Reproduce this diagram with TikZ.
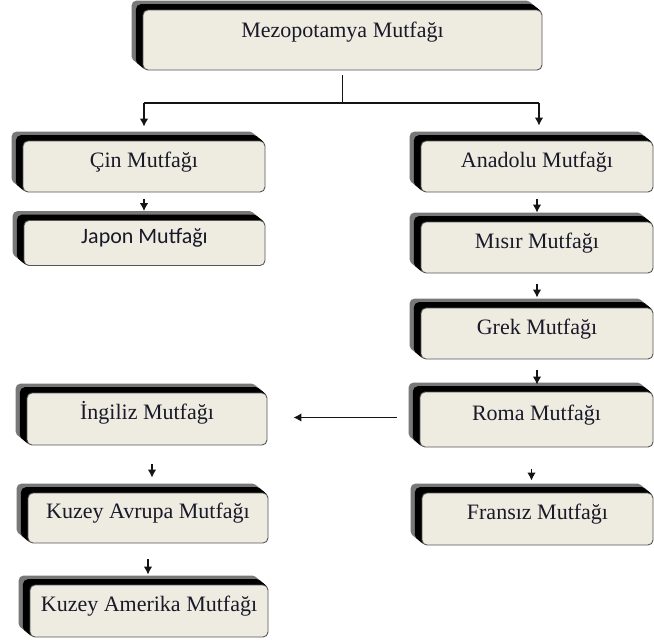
\documentclass[tikz,border=0pt]{standalone}
\usepackage{fontspec}
\setmainfont{Liberation Serif}
\newfontfamily\calfont{Carlito}
\usetikzlibrary{arrows.meta,backgrounds}
\definecolor{boxfill}{RGB}{238,235,225}
\definecolor{boxline}{RGB}{85,85,85}
\definecolor{shgray}{RGB}{120,120,120}
\definecolor{txt}{RGB}{25,25,40}
\definecolor{arrcol}{RGB}{20,20,20}
\begin{document}
\begin{tikzpicture}[x=1pt,y=-1pt,
  box/.style={draw=boxline, line width=0.9pt, fill=boxfill, rounded corners=5pt,
    inner sep=0pt, text height=10pt, text depth=9pt,
    font=\fontsize{22}{26}\selectfont, text=txt},
  conn/.style={draw=arrcol, line width=1.2pt},
  arr/.style={conn, -{Latex[length=8pt,width=8.5pt]}}]
\useasboundingbox (0,0) rectangle (654,643);

% boxes
\node[box, minimum width=399pt, minimum height=60pt, text height=7pt, text depth=13pt] (mezo) at (342.5,40) {Mezopotamya Mutfağı};
\node[box, minimum width=242pt, minimum height=51pt] (cin) at (144,166.5) {Çin Mutfağı};
\node[box, minimum width=241pt, minimum height=45pt, font=\calfont\fontsize{22}{26}\selectfont] (japon) at (144.5,243) {Japon Mutfağı};
\node[box, minimum width=232pt, minimum height=51pt] (anadolu) at (537,166.5) {Anadolu Mutfağı};
\node[box, minimum width=232pt, minimum height=51pt] (misir) at (537,247.5) {Mısır Mutfağı};
\node[box, minimum width=232pt, minimum height=51pt] (grek) at (537,333.5) {Grek Mutfağı};
\node[box, minimum width=233pt, minimum height=55pt] (roma) at (536.5,419.5) {Roma Mutfağı};
\node[box, minimum width=231pt, minimum height=52pt] (fransiz) at (537.5,519) {Fransız Mutfağı};
\node[box, minimum width=240pt, minimum height=52pt] (ingiliz) at (147,419) {İngiliz Mutfağı};
\node[box, minimum width=240pt, minimum height=50pt] (kavrupa) at (148,518) {Kuzey Avrupa Mutfağı};
\node[box, minimum width=238pt, minimum height=52pt] (kamerika) at (149,611) {Kuzey Amerika Mutfağı};

% 3D shadows
\begin{scope}[on background layer]
\foreach \n in {mezo,cin,japon,anadolu,misir,grek,roma,fransiz,ingiliz,kavrupa,kamerika}{
  \foreach \t in {10,9,...,1}{
    \ifnum\t>6 \def\sc{shgray}\else\def\sc{black}\fi
    \fill[\sc, rounded corners=5pt]
      ([shift={(-1.1*\t,-0.9*\t)}]\n.south west) rectangle ([shift={(-1.1*\t,-0.9*\t)}]\n.north east);
  }
}
\end{scope}

% connectors
\coordinate (split) at (342.5,103);
\coordinate (lc) at (144,103);
\coordinate (rc) at (539,103);
\draw[conn] ([yshift=-5pt]mezo.south) -- (split);
\draw[conn] (lc) -- (rc);
\draw[arr, shorten >=14pt] (lc) -- (lc |- cin.north);
\draw[arr, shorten >=15pt] (rc) -- (rc |- anadolu.north);

\draw[arr, shorten <=7pt, shorten >=9pt] (cin.south) -- (cin.south |- japon.north);
\draw[arr, shorten <=7pt, shorten >=9pt] (anadolu.south) -- (anadolu.south |- misir.north);
\draw[arr, shorten <=11pt, shorten >=10pt] (misir.south) -- (misir.south |- grek.north);
\draw[arr, shorten <=11pt, shorten >=7pt] (grek.south) -- (grek.south |- roma.north);
\draw[arr, shorten <=22pt, shorten >=12pt] ([xshift=-5pt]roma.south) -- ([xshift=-5pt]roma.south |- fransiz.north);
\draw[arr, shorten <=23pt, shorten >=26pt] ([yshift=2pt]roma.west) -- ([yshift=2pt]roma.west -| ingiliz.east);
\draw[arr, shorten <=19pt, shorten >=15pt] ([xshift=5pt]ingiliz.south) -- ([xshift=5pt]ingiliz.south |- kavrupa.north);
\draw[arr, shorten <=16pt, shorten >=10pt] (kavrupa.south) -- (kavrupa.south |- kamerika.north);
\end{tikzpicture}
\end{document}
